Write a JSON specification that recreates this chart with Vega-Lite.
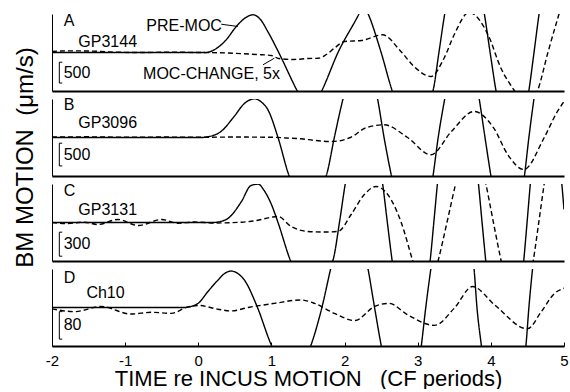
{
  "$schema": "https://vega.github.io/schema/vega-lite/v6.json",
  "padding": {"left": 12, "top": 12, "right": 0, "bottom": 0},
  "spacing": 8,
  "bounds": "flush",
  "datasets": {
    "curves": [
      {"panel":"A","series":"PRE-MOC","time":-2,"bm":0},{"panel":"A","series":"PRE-MOC","time":0.1,"bm":0},{"panel":"A","series":"PRE-MOC","time":0.2,"bm":48},{"panel":"A","series":"PRE-MOC","time":0.36,"bm":264},{"panel":"A","series":"PRE-MOC","time":0.54,"bm":665},{"panel":"A","series":"PRE-MOC","time":0.65,"bm":840},{"panel":"A","series":"PRE-MOC","time":0.75,"bm":905},{"panel":"A","series":"PRE-MOC","time":0.85,"bm":792},{"panel":"A","series":"PRE-MOC","time":0.95,"bm":504},{"panel":"A","series":"PRE-MOC","time":1.1,"bm":0},{"panel":"A","series":"PRE-MOC","time":1.35,"bm":-912},{"panel":"A","series":"PRE-MOC","time":1.52,"bm":-1440},{"panel":"A","series":"PRE-MOC","time":1.69,"bm":-912},{"panel":"A","series":"PRE-MOC","time":1.91,"bm":0},{"panel":"A","series":"PRE-MOC","time":2.2,"bm":936},{"panel":"A","series":"PRE-MOC","time":2.26,"bm":1150},{"panel":"A","series":"PRE-MOC","time":2.32,"bm":936},{"panel":"A","series":"PRE-MOC","time":2.5,"bm":0},{"panel":"A","series":"PRE-MOC","time":2.65,"bm":-912},{"panel":"A","series":"PRE-MOC","time":2.93,"bm":-1900},{"panel":"A","series":"PRE-MOC","time":3.21,"bm":-912},{"panel":"A","series":"PRE-MOC","time":3.29,"bm":0},{"panel":"A","series":"PRE-MOC","time":3.37,"bm":936},{"panel":"A","series":"PRE-MOC","time":3.64,"bm":2400},{"panel":"A","series":"PRE-MOC","time":3.91,"bm":936},{"panel":"A","series":"PRE-MOC","time":3.99,"bm":0},{"panel":"A","series":"PRE-MOC","time":4.07,"bm":-912},{"panel":"A","series":"PRE-MOC","time":4.3,"bm":-2200},{"panel":"A","series":"PRE-MOC","time":4.52,"bm":-912},{"panel":"A","series":"PRE-MOC","time":4.59,"bm":0},{"panel":"A","series":"PRE-MOC","time":4.66,"bm":936},{"panel":"A","series":"PRE-MOC","time":5.0,"bm":3000},
      {"panel":"A","series":"MOC-CHANGE, 5x","time":-2,"bm":24},{"panel":"A","series":"MOC-CHANGE, 5x","time":-1.8,"bm":40},{"panel":"A","series":"MOC-CHANGE, 5x","time":-1.5,"bm":36},{"panel":"A","series":"MOC-CHANGE, 5x","time":-1.2,"bm":12},{"panel":"A","series":"MOC-CHANGE, 5x","time":-0.8,"bm":0},{"panel":"A","series":"MOC-CHANGE, 5x","time":-0.4,"bm":7},{"panel":"A","series":"MOC-CHANGE, 5x","time":0,"bm":0},{"panel":"A","series":"MOC-CHANGE, 5x","time":0.4,"bm":-12},{"panel":"A","series":"MOC-CHANGE, 5x","time":0.8,"bm":-48},{"panel":"A","series":"MOC-CHANGE, 5x","time":1.0,"bm":-72},{"panel":"A","series":"MOC-CHANGE, 5x","time":1.1,"bm":-144},{"panel":"A","series":"MOC-CHANGE, 5x","time":1.3,"bm":-168},{"panel":"A","series":"MOC-CHANGE, 5x","time":1.5,"bm":-144},{"panel":"A","series":"MOC-CHANGE, 5x","time":1.64,"bm":-137},{"panel":"A","series":"MOC-CHANGE, 5x","time":1.75,"bm":-48},{"panel":"A","series":"MOC-CHANGE, 5x","time":1.86,"bm":103},{"panel":"A","series":"MOC-CHANGE, 5x","time":2.0,"bm":264},{"panel":"A","series":"MOC-CHANGE, 5x","time":2.12,"bm":276},{"panel":"A","series":"MOC-CHANGE, 5x","time":2.23,"bm":288},{"panel":"A","series":"MOC-CHANGE, 5x","time":2.52,"bm":425},{"panel":"A","series":"MOC-CHANGE, 5x","time":2.77,"bm":24},{"panel":"A","series":"MOC-CHANGE, 5x","time":2.95,"bm":-336},{"panel":"A","series":"MOC-CHANGE, 5x","time":3.18,"bm":-576},{"panel":"A","series":"MOC-CHANGE, 5x","time":3.36,"bm":-137},{"panel":"A","series":"MOC-CHANGE, 5x","time":3.5,"bm":432},{"panel":"A","series":"MOC-CHANGE, 5x","time":3.7,"bm":960},{"panel":"A","series":"MOC-CHANGE, 5x","time":3.96,"bm":432},{"panel":"A","series":"MOC-CHANGE, 5x","time":4.14,"bm":-384},{"panel":"A","series":"MOC-CHANGE, 5x","time":4.32,"bm":-912},{"panel":"A","series":"MOC-CHANGE, 5x","time":4.48,"bm":-1320},{"panel":"A","series":"MOC-CHANGE, 5x","time":4.64,"bm":-912},{"panel":"A","series":"MOC-CHANGE, 5x","time":4.78,"bm":0},{"panel":"A","series":"MOC-CHANGE, 5x","time":4.93,"bm":912},{"panel":"A","series":"MOC-CHANGE, 5x","time":5.0,"bm":1320},

      {"panel":"B","series":"PRE-MOC","time":-2,"bm":0},{"panel":"B","series":"PRE-MOC","time":0.05,"bm":0},{"panel":"B","series":"PRE-MOC","time":0.15,"bm":22},{"panel":"B","series":"PRE-MOC","time":0.31,"bm":132},{"panel":"B","series":"PRE-MOC","time":0.49,"bm":462},{"panel":"B","series":"PRE-MOC","time":0.63,"bm":748},{"panel":"B","series":"PRE-MOC","time":0.77,"bm":851},{"panel":"B","series":"PRE-MOC","time":0.87,"bm":770},{"panel":"B","series":"PRE-MOC","time":0.95,"bm":616},{"panel":"B","series":"PRE-MOC","time":1.09,"bm":0},{"panel":"B","series":"PRE-MOC","time":1.24,"bm":-836},{"panel":"B","series":"PRE-MOC","time":1.5,"bm":-1430},{"panel":"B","series":"PRE-MOC","time":1.75,"bm":-836},{"panel":"B","series":"PRE-MOC","time":1.86,"bm":0},{"panel":"B","series":"PRE-MOC","time":1.98,"bm":858},{"panel":"B","series":"PRE-MOC","time":2.22,"bm":1980},{"panel":"B","series":"PRE-MOC","time":2.45,"bm":858},{"panel":"B","series":"PRE-MOC","time":2.54,"bm":0},{"panel":"B","series":"PRE-MOC","time":2.64,"bm":-836},{"panel":"B","series":"PRE-MOC","time":2.92,"bm":-2420},{"panel":"B","series":"PRE-MOC","time":3.21,"bm":-836},{"panel":"B","series":"PRE-MOC","time":3.28,"bm":0},{"panel":"B","series":"PRE-MOC","time":3.37,"bm":858},{"panel":"B","series":"PRE-MOC","time":3.6,"bm":2640},{"panel":"B","series":"PRE-MOC","time":3.84,"bm":858},{"panel":"B","series":"PRE-MOC","time":3.92,"bm":0},{"panel":"B","series":"PRE-MOC","time":4.0,"bm":-836},{"panel":"B","series":"PRE-MOC","time":4.23,"bm":-2640},{"panel":"B","series":"PRE-MOC","time":4.46,"bm":-836},{"panel":"B","series":"PRE-MOC","time":4.52,"bm":0},{"panel":"B","series":"PRE-MOC","time":4.59,"bm":858},{"panel":"B","series":"PRE-MOC","time":5.0,"bm":3300},
      {"panel":"B","series":"MOC-CHANGE, 5x","time":-2,"bm":10},{"panel":"B","series":"MOC-CHANGE, 5x","time":-1.5,"bm":15},{"panel":"B","series":"MOC-CHANGE, 5x","time":-1,"bm":5},{"panel":"B","series":"MOC-CHANGE, 5x","time":-0.5,"bm":10},{"panel":"B","series":"MOC-CHANGE, 5x","time":0,"bm":5},{"panel":"B","series":"MOC-CHANGE, 5x","time":0.5,"bm":10},{"panel":"B","series":"MOC-CHANGE, 5x","time":1.0,"bm":5},{"panel":"B","series":"MOC-CHANGE, 5x","time":1.2,"bm":-10},{"panel":"B","series":"MOC-CHANGE, 5x","time":1.41,"bm":-29},{"panel":"B","series":"MOC-CHANGE, 5x","time":1.6,"bm":-66},{"panel":"B","series":"MOC-CHANGE, 5x","time":1.82,"bm":-88},{"panel":"B","series":"MOC-CHANGE, 5x","time":2.08,"bm":0},{"panel":"B","series":"MOC-CHANGE, 5x","time":2.3,"bm":220},{"panel":"B","series":"MOC-CHANGE, 5x","time":2.54,"bm":279},{"panel":"B","series":"MOC-CHANGE, 5x","time":2.86,"bm":0},{"panel":"B","series":"MOC-CHANGE, 5x","time":3.18,"bm":-381},{"panel":"B","series":"MOC-CHANGE, 5x","time":3.46,"bm":132},{"panel":"B","series":"MOC-CHANGE, 5x","time":3.77,"bm":572},{"panel":"B","series":"MOC-CHANGE, 5x","time":4.04,"bm":205},{"panel":"B","series":"MOC-CHANGE, 5x","time":4.23,"bm":-374},{"panel":"B","series":"MOC-CHANGE, 5x","time":4.45,"bm":-704},{"panel":"B","series":"MOC-CHANGE, 5x","time":4.73,"bm":0},{"panel":"B","series":"MOC-CHANGE, 5x","time":4.91,"bm":572},{"panel":"B","series":"MOC-CHANGE, 5x","time":5.0,"bm":792},

      {"panel":"C","series":"PRE-MOC","time":-2,"bm":0},{"panel":"C","series":"PRE-MOC","time":0.2,"bm":0},{"panel":"C","series":"PRE-MOC","time":0.3,"bm":12},{"panel":"C","series":"PRE-MOC","time":0.41,"bm":54},{"panel":"C","series":"PRE-MOC","time":0.59,"bm":262},{"panel":"C","series":"PRE-MOC","time":0.72,"bm":462},{"panel":"C","series":"PRE-MOC","time":0.82,"bm":479},{"panel":"C","series":"PRE-MOC","time":0.9,"bm":400},{"panel":"C","series":"PRE-MOC","time":1.0,"bm":225},{"panel":"C","series":"PRE-MOC","time":1.09,"bm":0},{"panel":"C","series":"PRE-MOC","time":1.26,"bm":-475},{"panel":"C","series":"PRE-MOC","time":1.55,"bm":-875},{"panel":"C","series":"PRE-MOC","time":1.84,"bm":-475},{"panel":"C","series":"PRE-MOC","time":1.93,"bm":0},{"panel":"C","series":"PRE-MOC","time":2.01,"bm":488},{"panel":"C","series":"PRE-MOC","time":2.27,"bm":1375},{"panel":"C","series":"PRE-MOC","time":2.52,"bm":488},{"panel":"C","series":"PRE-MOC","time":2.585,"bm":0},{"panel":"C","series":"PRE-MOC","time":2.65,"bm":-475},{"panel":"C","series":"PRE-MOC","time":2.91,"bm":-1500},{"panel":"C","series":"PRE-MOC","time":3.17,"bm":-475},{"panel":"C","series":"PRE-MOC","time":3.22,"bm":0},{"panel":"C","series":"PRE-MOC","time":3.27,"bm":488},{"panel":"C","series":"PRE-MOC","time":3.55,"bm":1875},{"panel":"C","series":"PRE-MOC","time":3.83,"bm":488},{"panel":"C","series":"PRE-MOC","time":3.88,"bm":0},{"panel":"C","series":"PRE-MOC","time":3.93,"bm":-475},{"panel":"C","series":"PRE-MOC","time":4.19,"bm":-1875},{"panel":"C","series":"PRE-MOC","time":4.45,"bm":-475},{"panel":"C","series":"PRE-MOC","time":4.495,"bm":0},{"panel":"C","series":"PRE-MOC","time":4.54,"bm":488},{"panel":"C","series":"PRE-MOC","time":4.75,"bm":1875},{"panel":"C","series":"PRE-MOC","time":4.97,"bm":488},{"panel":"C","series":"PRE-MOC","time":5.0,"bm":162},
      {"panel":"C","series":"MOC-CHANGE, 5x","time":-2,"bm":0},{"panel":"C","series":"MOC-CHANGE, 5x","time":-1.8,"bm":-12},{"panel":"C","series":"MOC-CHANGE, 5x","time":-1.56,"bm":4},{"panel":"C","series":"MOC-CHANGE, 5x","time":-1.37,"bm":-25},{"panel":"C","series":"MOC-CHANGE, 5x","time":-1.1,"bm":38},{"panel":"C","series":"MOC-CHANGE, 5x","time":-0.82,"bm":-38},{"panel":"C","series":"MOC-CHANGE, 5x","time":-0.5,"bm":38},{"panel":"C","series":"MOC-CHANGE, 5x","time":-0.28,"bm":-9},{"panel":"C","series":"MOC-CHANGE, 5x","time":-0.05,"bm":6},{"panel":"C","series":"MOC-CHANGE, 5x","time":0.22,"bm":-6},{"panel":"C","series":"MOC-CHANGE, 5x","time":0.59,"bm":4},{"panel":"C","series":"MOC-CHANGE, 5x","time":0.8,"bm":25},{"panel":"C","series":"MOC-CHANGE, 5x","time":1.0,"bm":66},{"panel":"C","series":"MOC-CHANGE, 5x","time":1.09,"bm":75},{"panel":"C","series":"MOC-CHANGE, 5x","time":1.27,"bm":-50},{"panel":"C","series":"MOC-CHANGE, 5x","time":1.5,"bm":-112},{"panel":"C","series":"MOC-CHANGE, 5x","time":1.7,"bm":-119},{"panel":"C","series":"MOC-CHANGE, 5x","time":1.91,"bm":-112},{"panel":"C","series":"MOC-CHANGE, 5x","time":2.09,"bm":100},{"panel":"C","series":"MOC-CHANGE, 5x","time":2.27,"bm":350},{"panel":"C","series":"MOC-CHANGE, 5x","time":2.43,"bm":450},{"panel":"C","series":"MOC-CHANGE, 5x","time":2.59,"bm":350},{"panel":"C","series":"MOC-CHANGE, 5x","time":2.77,"bm":12},{"panel":"C","series":"MOC-CHANGE, 5x","time":2.93,"bm":-475},{"panel":"C","series":"MOC-CHANGE, 5x","time":3.1,"bm":-1000},{"panel":"C","series":"MOC-CHANGE, 5x","time":3.28,"bm":-475},{"panel":"C","series":"MOC-CHANGE, 5x","time":3.4,"bm":0},{"panel":"C","series":"MOC-CHANGE, 5x","time":3.52,"bm":488},{"panel":"C","series":"MOC-CHANGE, 5x","time":3.72,"bm":1125},{"panel":"C","series":"MOC-CHANGE, 5x","time":3.93,"bm":488},{"panel":"C","series":"MOC-CHANGE, 5x","time":4.035,"bm":0},{"panel":"C","series":"MOC-CHANGE, 5x","time":4.14,"bm":-475},{"panel":"C","series":"MOC-CHANGE, 5x","time":4.36,"bm":-1250},{"panel":"C","series":"MOC-CHANGE, 5x","time":4.58,"bm":-475},{"panel":"C","series":"MOC-CHANGE, 5x","time":4.655,"bm":0},{"panel":"C","series":"MOC-CHANGE, 5x","time":4.73,"bm":488},{"panel":"C","series":"MOC-CHANGE, 5x","time":5.0,"bm":1875},

      {"panel":"D","series":"PRE-MOC","time":-2,"bm":0},{"panel":"D","series":"PRE-MOC","time":-0.2,"bm":0},{"panel":"D","series":"PRE-MOC","time":-0.1,"bm":3},{"panel":"D","series":"PRE-MOC","time":0.0,"bm":12.5},{"panel":"D","series":"PRE-MOC","time":0.13,"bm":46},{"panel":"D","series":"PRE-MOC","time":0.27,"bm":80},{"panel":"D","series":"PRE-MOC","time":0.36,"bm":99},{"panel":"D","series":"PRE-MOC","time":0.45,"bm":106},{"panel":"D","series":"PRE-MOC","time":0.54,"bm":99},{"panel":"D","series":"PRE-MOC","time":0.63,"bm":80},{"panel":"D","series":"PRE-MOC","time":0.8,"bm":5},{"panel":"D","series":"PRE-MOC","time":1.0,"bm":-110},{"panel":"D","series":"PRE-MOC","time":1.27,"bm":-203},{"panel":"D","series":"PRE-MOC","time":1.54,"bm":-110},{"panel":"D","series":"PRE-MOC","time":1.69,"bm":0},{"panel":"D","series":"PRE-MOC","time":1.81,"bm":113},{"panel":"D","series":"PRE-MOC","time":2.06,"bm":319},{"panel":"D","series":"PRE-MOC","time":2.32,"bm":113},{"panel":"D","series":"PRE-MOC","time":2.41,"bm":0},{"panel":"D","series":"PRE-MOC","time":2.5,"bm":-110},{"panel":"D","series":"PRE-MOC","time":2.78,"bm":-377},{"panel":"D","series":"PRE-MOC","time":3.05,"bm":-110},{"panel":"D","series":"PRE-MOC","time":3.11,"bm":0},{"panel":"D","series":"PRE-MOC","time":3.18,"bm":113},{"panel":"D","series":"PRE-MOC","time":3.47,"bm":435},{"panel":"D","series":"PRE-MOC","time":3.77,"bm":113},{"panel":"D","series":"PRE-MOC","time":3.81,"bm":0},{"panel":"D","series":"PRE-MOC","time":3.87,"bm":-110},{"panel":"D","series":"PRE-MOC","time":4.17,"bm":-464},{"panel":"D","series":"PRE-MOC","time":4.48,"bm":-110},{"panel":"D","series":"PRE-MOC","time":4.52,"bm":0},{"panel":"D","series":"PRE-MOC","time":4.57,"bm":113},{"panel":"D","series":"PRE-MOC","time":5.0,"bm":580},
      {"panel":"D","series":"MOC-CHANGE, 5x","time":-2,"bm":-4},{"panel":"D","series":"MOC-CHANGE, 5x","time":-1.69,"bm":-12},{"panel":"D","series":"MOC-CHANGE, 5x","time":-1.33,"bm":3},{"panel":"D","series":"MOC-CHANGE, 5x","time":-0.92,"bm":-19},{"panel":"D","series":"MOC-CHANGE, 5x","time":-0.64,"bm":-14},{"panel":"D","series":"MOC-CHANGE, 5x","time":-0.37,"bm":-17},{"panel":"D","series":"MOC-CHANGE, 5x","time":-0.14,"bm":2},{"panel":"D","series":"MOC-CHANGE, 5x","time":0,"bm":6},{"panel":"D","series":"MOC-CHANGE, 5x","time":0.27,"bm":-5},{"panel":"D","series":"MOC-CHANGE, 5x","time":0.45,"bm":-10},{"panel":"D","series":"MOC-CHANGE, 5x","time":0.68,"bm":0},{"panel":"D","series":"MOC-CHANGE, 5x","time":1.04,"bm":12},{"panel":"D","series":"MOC-CHANGE, 5x","time":1.4,"bm":22},{"panel":"D","series":"MOC-CHANGE, 5x","time":1.59,"bm":12},{"panel":"D","series":"MOC-CHANGE, 5x","time":1.86,"bm":-17},{"panel":"D","series":"MOC-CHANGE, 5x","time":2.14,"bm":-38},{"panel":"D","series":"MOC-CHANGE, 5x","time":2.41,"bm":3},{"panel":"D","series":"MOC-CHANGE, 5x","time":2.61,"bm":12},{"panel":"D","series":"MOC-CHANGE, 5x","time":2.86,"bm":-21},{"panel":"D","series":"MOC-CHANGE, 5x","time":3.23,"bm":-52},{"panel":"D","series":"MOC-CHANGE, 5x","time":3.5,"bm":-2},{"panel":"D","series":"MOC-CHANGE, 5x","time":3.75,"bm":61},{"panel":"D","series":"MOC-CHANGE, 5x","time":4.05,"bm":8},{"panel":"D","series":"MOC-CHANGE, 5x","time":4.5,"bm":-62},{"panel":"D","series":"MOC-CHANGE, 5x","time":4.69,"bm":-12},{"panel":"D","series":"MOC-CHANGE, 5x","time":4.87,"bm":41},{"panel":"D","series":"MOC-CHANGE, 5x","time":5.0,"bm":56}
    ],
    "notes": [
      {"panel":"A","time":-1.84,"bm":768,"text":"A"},{"panel":"A","time":-1.64,"bm":264,"text":"GP3144"},{"panel":"A","time":-0.71,"bm":648,"text":"PRE-MOC"},{"panel":"A","time":-0.755,"bm":-504,"text":"MOC-CHANGE, 5x"},{"panel":"A","time":-1.84,"bm":-483,"text":"500"},
      {"panel":"B","time":-1.84,"bm":726,"text":"B"},{"panel":"B","time":-1.64,"bm":330,"text":"GP3096"},{"panel":"B","time":-1.84,"bm":-375,"text":"500"},
      {"panel":"C","time":-1.84,"bm":388,"text":"C"},{"panel":"C","time":-1.64,"bm":150,"text":"GP3131"},{"panel":"C","time":-1.84,"bm":-271,"text":"300"},
      {"panel":"D","time":-1.84,"bm":87,"text":"D"},{"panel":"D","time":-1.53,"bm":41,"text":"Ch10"},{"panel":"D","time":-1.84,"bm":-52,"text":"80"}
    ],
    "bars": [
      {"panel":"A","time":-1.9,"lo":-733,"hi":-233},{"panel":"B","time":-1.9,"lo":-625,"hi":-125},{"panel":"C","time":-1.9,"lo":-421,"hi":-121},{"panel":"D","time":-1.9,"lo":-92,"hi":-12}
    ],
    "barEnds": [
      {"panel":"A","time":-1.9,"time2":-1.86,"bm":-733},{"panel":"A","time":-1.9,"time2":-1.86,"bm":-233},
      {"panel":"B","time":-1.9,"time2":-1.86,"bm":-625},{"panel":"B","time":-1.9,"time2":-1.86,"bm":-125},
      {"panel":"C","time":-1.9,"time2":-1.86,"bm":-421},{"panel":"C","time":-1.9,"time2":-1.86,"bm":-121},
      {"panel":"D","time":-1.9,"time2":-1.86,"bm":-92},{"panel":"D","time":-1.9,"time2":-1.86,"bm":-12}
    ],
    "leaders": [
      {"panel":"A","time":0.314,"bm":679,"time2":0.54,"bm2":624},
      {"panel":"A","time":0.884,"bm":-295,"time2":1.04,"bm2":-137}
    ]
  },
  "vconcat": [
    {
      "width": 512, "height": 77,
      "layer": [
        {"mark": {"type": "rule", "color": "black", "strokeWidth": 1.5}, "encoding": {"y": {"datum": 0, "type": "quantitative", "scale": {"domain": [-924, 924], "nice": false, "zero": false}, "title": null}}},
        {"data": {"name": "curves"}, "transform": [{"filter": {"field": "panel", "equal": "A"}}],
         "mark": {"type": "line", "clip": true, "color": "black", "strokeWidth": 1.4, "interpolate": "monotone"},
         "encoding": {
           "x": {"field": "time", "type": "quantitative", "scale": {"domain": [-2, 5], "nice": false, "zero": false}, "title": null},
           "y": {"field": "bm", "type": "quantitative", "title": null},
           "strokeDash": {"field": "series", "type": "nominal", "scale": {"domain": ["PRE-MOC", "MOC-CHANGE, 5x"], "range": [[1, 0], [5, 3]]}, "legend": null}
         }},
        {"data": {"name": "bars"}, "transform": [{"filter": {"field": "panel", "equal": "A"}}], "mark": {"type": "rule", "color": "black", "strokeWidth": 1},
         "encoding": {"x": {"field": "time", "type": "quantitative", "title": null}, "y": {"field": "lo", "type": "quantitative", "title": null}, "y2": {"field": "hi"}}},
        {"data": {"name": "barEnds"}, "transform": [{"filter": {"field": "panel", "equal": "A"}}], "mark": {"type": "rule", "color": "black", "strokeWidth": 1},
         "encoding": {"x": {"field": "time", "type": "quantitative", "title": null}, "x2": {"field": "time2"}, "y": {"field": "bm", "type": "quantitative", "title": null}}},
        {"data": {"name": "leaders"}, "transform": [{"filter": {"field": "panel", "equal": "A"}}], "mark": {"type": "rule", "color": "black", "strokeWidth": 1},
         "encoding": {"x": {"field": "time", "type": "quantitative", "title": null}, "x2": {"field": "time2"}, "y": {"field": "bm", "type": "quantitative", "title": null}, "y2": {"field": "bm2"}}},
        {"data": {"name": "notes"}, "transform": [{"filter": {"field": "panel", "equal": "A"}}], "mark": {"type": "text", "align": "left", "baseline": "middle", "color": "black"},
         "encoding": {"x": {"field": "time", "type": "quantitative", "title": null}, "y": {"field": "bm", "type": "quantitative", "title": null}, "text": {"field": "text"}}}
      ]
    },
    {
      "width": 512, "height": 77,
      "layer": [
        {"mark": {"type": "rule", "color": "black", "strokeWidth": 1.5}, "encoding": {"y": {"datum": 0, "type": "quantitative", "scale": {"domain": [-847, 847], "nice": false, "zero": false}, "title": null}}},
        {"data": {"name": "curves"}, "transform": [{"filter": {"field": "panel", "equal": "B"}}],
         "mark": {"type": "line", "clip": true, "color": "black", "strokeWidth": 1.4, "interpolate": "monotone"},
         "encoding": {
           "x": {"field": "time", "type": "quantitative", "scale": {"domain": [-2, 5], "nice": false, "zero": false}, "title": null},
           "y": {"field": "bm", "type": "quantitative",
                 "axis": {"title": "BM MOTION\u00a0\u00a0(\u03bcm/s)", "titleFontSize": 24, "titleFontWeight": "normal", "titleX": -27, "titleY": 58, "titleAngle": -90, "titleAlign": "center", "titleBaseline": "middle"}},
           "strokeDash": {"field": "series", "type": "nominal", "scale": {"domain": ["PRE-MOC", "MOC-CHANGE, 5x"], "range": [[1, 0], [5, 3]]}, "legend": null}
         }},
        {"data": {"name": "bars"}, "transform": [{"filter": {"field": "panel", "equal": "B"}}], "mark": {"type": "rule", "color": "black", "strokeWidth": 1},
         "encoding": {"x": {"field": "time", "type": "quantitative", "title": null}, "y": {"field": "lo", "type": "quantitative"}, "y2": {"field": "hi"}}},
        {"data": {"name": "barEnds"}, "transform": [{"filter": {"field": "panel", "equal": "B"}}], "mark": {"type": "rule", "color": "black", "strokeWidth": 1},
         "encoding": {"x": {"field": "time", "type": "quantitative", "title": null}, "x2": {"field": "time2"}, "y": {"field": "bm", "type": "quantitative"}}},
        {"data": {"name": "notes"}, "transform": [{"filter": {"field": "panel", "equal": "B"}}], "mark": {"type": "text", "align": "left", "baseline": "middle", "color": "black"},
         "encoding": {"x": {"field": "time", "type": "quantitative", "title": null}, "y": {"field": "bm", "type": "quantitative"}, "text": {"field": "text"}}}
      ]
    },
    {
      "width": 512, "height": 77,
      "layer": [
        {"mark": {"type": "rule", "color": "black", "strokeWidth": 1.5}, "encoding": {"y": {"datum": 0, "type": "quantitative", "scale": {"domain": [-481, 481], "nice": false, "zero": false}, "title": null}}},
        {"data": {"name": "curves"}, "transform": [{"filter": {"field": "panel", "equal": "C"}}],
         "mark": {"type": "line", "clip": true, "color": "black", "strokeWidth": 1.4, "interpolate": "monotone"},
         "encoding": {
           "x": {"field": "time", "type": "quantitative", "scale": {"domain": [-2, 5], "nice": false, "zero": false}, "title": null},
           "y": {"field": "bm", "type": "quantitative", "title": null},
           "strokeDash": {"field": "series", "type": "nominal", "scale": {"domain": ["PRE-MOC", "MOC-CHANGE, 5x"], "range": [[1, 0], [5, 3]]}, "legend": null}
         }},
        {"data": {"name": "bars"}, "transform": [{"filter": {"field": "panel", "equal": "C"}}], "mark": {"type": "rule", "color": "black", "strokeWidth": 1},
         "encoding": {"x": {"field": "time", "type": "quantitative", "title": null}, "y": {"field": "lo", "type": "quantitative", "title": null}, "y2": {"field": "hi"}}},
        {"data": {"name": "barEnds"}, "transform": [{"filter": {"field": "panel", "equal": "C"}}], "mark": {"type": "rule", "color": "black", "strokeWidth": 1},
         "encoding": {"x": {"field": "time", "type": "quantitative", "title": null}, "x2": {"field": "time2"}, "y": {"field": "bm", "type": "quantitative", "title": null}}},
        {"data": {"name": "notes"}, "transform": [{"filter": {"field": "panel", "equal": "C"}}], "mark": {"type": "text", "align": "left", "baseline": "middle", "color": "black"},
         "encoding": {"x": {"field": "time", "type": "quantitative", "title": null}, "y": {"field": "bm", "type": "quantitative", "title": null}, "text": {"field": "text"}}}
      ]
    },
    {
      "width": 512, "height": 77,
      "layer": [
        {"mark": {"type": "rule", "color": "black", "strokeWidth": 1.5}, "encoding": {"y": {"datum": 0, "type": "quantitative", "scale": {"domain": [-112, 112], "nice": false, "zero": false}, "title": null}}},
        {"data": {"name": "curves"}, "transform": [{"filter": {"field": "panel", "equal": "D"}}],
         "mark": {"type": "line", "clip": true, "color": "black", "strokeWidth": 1.4, "interpolate": "monotone"},
         "encoding": {
           "x": {"field": "time", "type": "quantitative", "scale": {"domain": [-2, 5], "nice": false, "zero": false},
                 "axis": {"title": "TIME re INCUS MOTION\u00a0\u00a0\u00a0(CF periods)", "values": [-2, -1, 0, 1, 2, 3, 4, 5], "labelExpr": "'' + datum.value", "labels": true, "ticks": true, "tickSize": -4, "tickColor": "black", "tickWidth": 1, "labelFontSize": 15, "labelPadding": 11, "titleFontSize": 22, "titleFontWeight": "normal", "titlePadding": 0, "labelFlush": false}},
           "y": {"field": "bm", "type": "quantitative", "title": null},
           "strokeDash": {"field": "series", "type": "nominal", "scale": {"domain": ["PRE-MOC", "MOC-CHANGE, 5x"], "range": [[1, 0], [5, 3]]}, "legend": null}
         }},
        {"data": {"name": "bars"}, "transform": [{"filter": {"field": "panel", "equal": "D"}}], "mark": {"type": "rule", "color": "black", "strokeWidth": 1},
         "encoding": {"x": {"field": "time", "type": "quantitative"}, "y": {"field": "lo", "type": "quantitative", "title": null}, "y2": {"field": "hi"}}},
        {"data": {"name": "barEnds"}, "transform": [{"filter": {"field": "panel", "equal": "D"}}], "mark": {"type": "rule", "color": "black", "strokeWidth": 1},
         "encoding": {"x": {"field": "time", "type": "quantitative"}, "x2": {"field": "time2"}, "y": {"field": "bm", "type": "quantitative", "title": null}}},
        {"data": {"name": "notes"}, "transform": [{"filter": {"field": "panel", "equal": "D"}}], "mark": {"type": "text", "align": "left", "baseline": "middle", "color": "black"},
         "encoding": {"x": {"field": "time", "type": "quantitative"}, "y": {"field": "bm", "type": "quantitative", "title": null}, "text": {"field": "text"}}}
      ]
    }
  ],
  "config": {
    "view": {"stroke": null},
    "font": "Liberation Sans",
    "axis": {"grid": false, "labels": false, "ticks": false, "domainColor": "black", "labelColor": "black", "titleColor": "black", "labelFont": "Liberation Sans", "titleFont": "Liberation Sans"},
    "axisX": {"domainWidth": 2},
    "axisY": {"domainWidth": 1},
    "text": {"font": "Liberation Sans", "fontSize": 16}
  }
}
